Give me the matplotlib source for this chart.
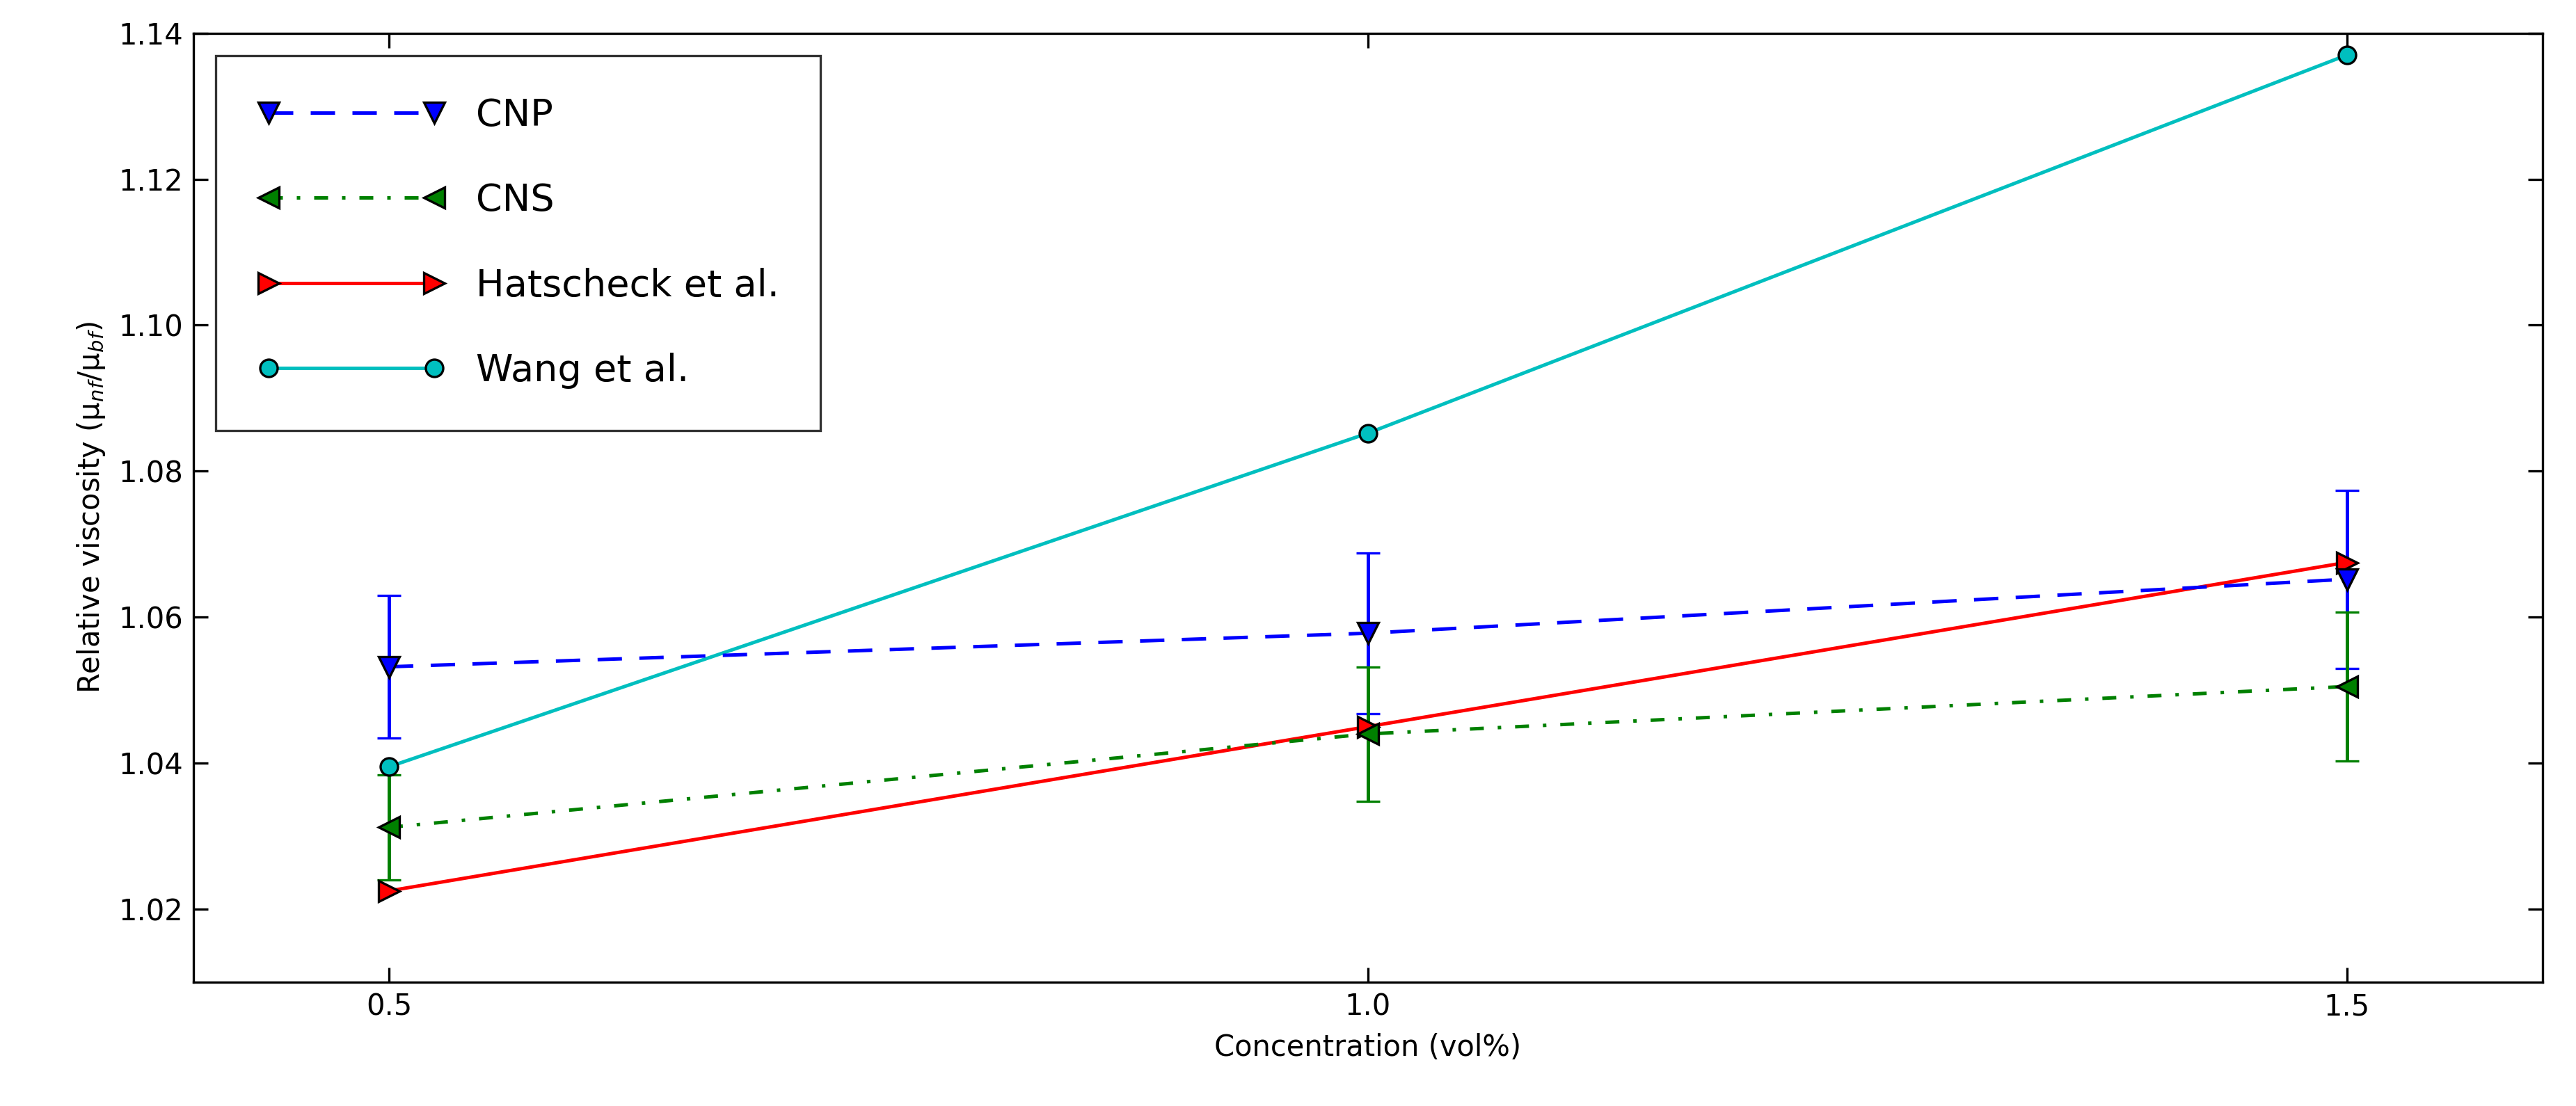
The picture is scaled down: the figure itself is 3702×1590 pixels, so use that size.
import matplotlib
matplotlib.use("Agg")
from matplotlib import pyplot as plt

# concentration (vol%)
conc = [0.5, 1.0, 1.5]

cnp = [1.0532, 1.0578, 1.0652]
cnp_err = [0.0098, 0.0110, 0.0122]
cns = [1.0312, 1.0440, 1.0505]
cns_err = [0.0072, 0.0092, 0.0102]
hatscheck = [1.0225, 1.0450, 1.0675]
wang = [1.0395, 1.0852, 1.1370]

fig, ax = plt.subplots(figsize=(12.34, 5.3), dpi=300)
fig.subplots_adjust(left=0.075, right=0.987, top=0.97, bottom=0.112)

c1 = ax.errorbar(conc, cnp, yerr=cnp_err, color='blue', ls='--', marker='v', ms=7,
                 mec='black', mew=0.8, lw=1.2, capsize=4, dashes=(7, 5))
c2 = ax.errorbar(conc, cns, yerr=cns_err, color='green', ls='-.', marker='<', ms=7,
                 mec='black', mew=0.8, lw=1.2, capsize=4, dashes=(4, 4, 1, 4))
l3, = ax.plot(conc, hatscheck, color='red', ls='-', marker='>', ms=7,
              mec='black', mew=0.8, lw=1.2)
l4, = ax.plot(conc, wang, color='c', ls='-', marker='o', ms=6,
              mec='black', mew=0.8, lw=1.2)

ax.set_xlim(0.4, 1.6)
ax.set_ylim(1.01, 1.14)
ax.set_xticks(conc)
ax.set_xticklabels(['0.5', '1.0', '1.5'])
ax.set_yticks([1.02, 1.04, 1.06, 1.08, 1.10, 1.12, 1.14])
ax.set_yticklabels(['1.02', '1.04', '1.06', '1.08', '1.10', '1.12', '1.14'])
ax.tick_params(direction='in', top=True, right=True, labelsize=10, length=5)
ax.set_xlabel('Concentration (vol%)', fontsize=10)
ax.set_ylabel(r'Relative viscosity (μ$_{nf}$/μ$_{bf}$)', fontsize=10)

leg = ax.legend([c1[0], c2[0], l3, l4], ['CNP', 'CNS', 'Hatscheck et al.', 'Wang et al.'],
                loc='upper left', fontsize=13, fancybox=False, edgecolor='black',
                borderpad=1.1, labelspacing=1.3, handlelength=5.0, numpoints=2,
                borderaxespad=0.6)
leg.get_frame().set_linewidth(0.8)

fig.savefig('out.png', dpi=300)
